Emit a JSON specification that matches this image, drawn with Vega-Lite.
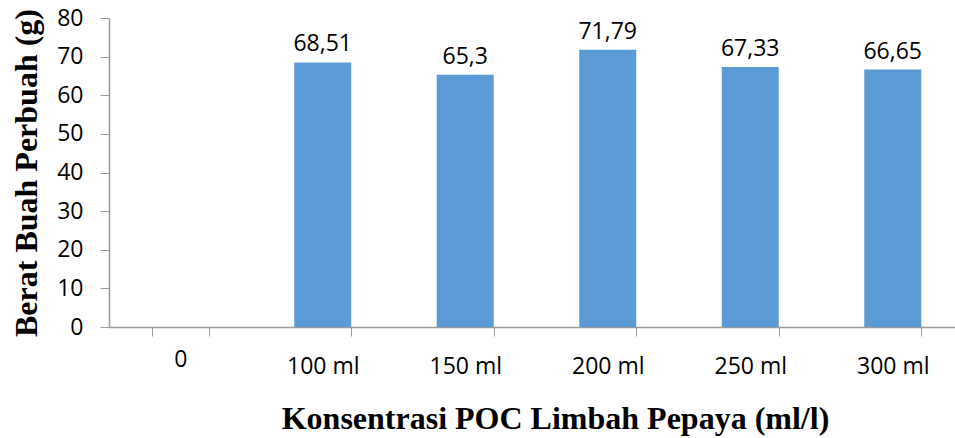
{
  "$schema": "https://vega.github.io/schema/vega-lite/v6.json",
  "autosize": {"type": "none"},
  "padding": {"left": 109, "top": 18, "right": -9, "bottom": 111},
  "width": 855,
  "height": 309,
  "background": "white",
  "config": {
    "view": {"stroke": null},
    "locale": {"number": {"decimal": ",", "thousands": ".", "grouping": [3], "currency": ["", ""]}}
  },
  "data": {
    "values": [
      {"konsentrasi": "0", "berat": null},
      {"konsentrasi": "100 ml", "berat": 68.51},
      {"konsentrasi": "150 ml", "berat": 65.3},
      {"konsentrasi": "200 ml", "berat": 71.79},
      {"konsentrasi": "250 ml", "berat": 67.33},
      {"konsentrasi": "300 ml", "berat": 66.65}
    ]
  },
  "encoding": {
    "x": {
      "field": "konsentrasi",
      "type": "nominal",
      "sort": null,
      "scale": {"domain": ["0", "100 ml", "150 ml", "200 ml", "250 ml", "300 ml"], "paddingInner": 0.6, "paddingOuter": 0.3},
      "axis": {
        "title": "Konsentrasi POC Limbah Pepaya (ml/l)",
        "titleFont": "Liberation Serif",
        "titleFontWeight": "bold",
        "titleFontSize": 32,
        "titleColor": "black",
        "titlePadding": 25,
        "titleX": 446,
        "labelAngle": 0,
        "labelFont": "Open Sans",
        "labelFontSize": 23,
        "labelColor": "black",
        "labelPadding": {"condition": {"test": "datum.value === '0'", "value": 12}, "value": 19},
        "tickBand": "extent",
        "tickSize": 9,
        "tickColor": "#9a9a9a",
        "domainColor": "#9a9a9a",
        "domainWidth": 1.5
      }
    },
    "y": {
      "field": "berat",
      "type": "quantitative",
      "scale": {"domain": [0, 80], "nice": false},
      "axis": {
        "title": "Berat Buah Perbuah (g)",
        "titleFont": "Liberation Serif",
        "titleFontWeight": "bold",
        "titleFontSize": 32,
        "titleColor": "black",
        "titlePadding": 13,
        "values": [0, 10, 20, 30, 40, 50, 60, 70, 80],
        "grid": false,
        "labelFont": "Open Sans",
        "labelFontSize": 23,
        "labelColor": "black",
        "labelPadding": 17,
        "tickSize": 9,
        "tickColor": "#9a9a9a",
        "domainColor": "#9a9a9a",
        "domainWidth": 1.5
      }
    }
  },
  "layer": [
    {"mark": {"type": "bar", "color": "#5B9BD5"}},
    {
      "transform": [{"filter": "datum.berat != null"}],
      "mark": {"type": "text", "font": "Open Sans", "fontSize": 23, "color": "black", "baseline": "alphabetic", "dy": -11},
      "encoding": {"text": {"field": "berat", "type": "quantitative", "format": ".2~f"}}
    }
  ]
}
